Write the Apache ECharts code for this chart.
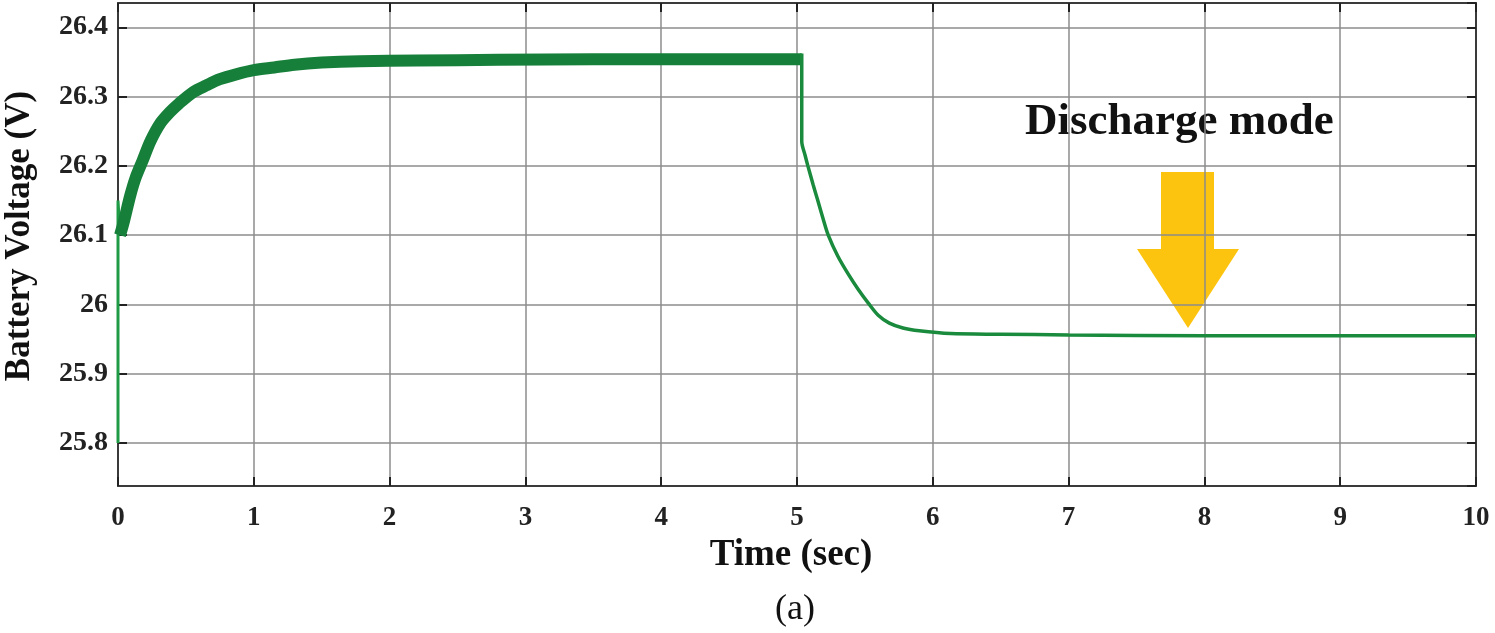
<!DOCTYPE html>
<html>
<head>
<meta charset="utf-8">
<title>Battery Voltage</title>
<script src="https://cdn.jsdelivr.net/npm/echarts@6/dist/echarts.min.js"></script>
<style>
  html, body { margin: 0; padding: 0; background: #fff; }
  #chart { width: 1495px; height: 633px; }
</style>
</head>
<body>
<div id="chart"></div>
<script>
// start spike at t = 0
var spikeTime = [0, 0, 0.015];
var spikeVolt = [25.80, 26.15, 26.10];

// charge phase (centre of the ripple band)
var chargeTime = [0.015, 0.04, 0.09, 0.13, 0.18, 0.24, 0.31, 0.38, 0.45, 0.55, 0.65, 0.75, 0.87, 1.0, 1.15, 1.3, 1.5, 1.78, 2.2, 2.8, 3.5, 4.3, 5.035];
var chargeVolt = [26.10, 26.117, 26.157, 26.183, 26.207, 26.236, 26.261, 26.277, 26.29, 26.306, 26.316, 26.325, 26.332, 26.338, 26.342, 26.346, 26.349, 26.351, 26.352, 26.353, 26.354, 26.354, 26.354];

// discharge phase
var dischargeTime = [5.035, 5.035, 5.06, 5.08, 5.12, 5.15, 5.19, 5.23, 5.3, 5.38, 5.45, 5.525, 5.6, 5.68, 5.78, 5.9, 6.13, 6.5, 7, 8, 9, 10];
var dischargeVolt = [26.362, 26.235, 26.215, 26.2, 26.172, 26.152, 26.125, 26.1, 26.07, 26.043, 26.022, 26.002, 25.984, 25.973, 25.966, 25.962, 25.958, 25.957, 25.956, 25.955, 25.955, 25.955];

var xRange = [0, 10];
var yRange = [25.738, 26.435];

var fontFamily = "'Liberation Serif', 'Times New Roman', serif";

function pairs(xs, ys) {
  var out = [];
  for (var i = 0; i < xs.length; i++) {
    out.push([xs[i], ys[i]]);
  }
  return out;
}

var chart = echarts.init(document.getElementById("chart"));

var gridLine = { show: true, lineStyle: { color: "#8c8c8c", width: 1.5 } };
var boxLine = { show: true, onZero: false, lineStyle: { color: "#3a3a3a", width: 2 } };
var innerTick = { show: true, inside: true, length: 9, lineStyle: { color: "#222", width: 2 } };

var option = {
  animation: false,
  backgroundColor: "#fff",
  grid: { left: 118, right: 19, top: 3, bottom: 147, outerBoundsMode: "none" },
  xAxis: [
    {
      type: "value",
      min: xRange[0],
      max: xRange[1],
      interval: 1,
      name: "Time (sec)",
      nameLocation: "middle",
      nameGap: 46,
      nameTextStyle: { fontFamily: fontFamily, fontWeight: "bold", fontSize: 37, color: "#111", padding: [0, 12, 0, 0] },
      axisLine: boxLine,
      axisTick: innerTick,
      splitLine: gridLine,
      axisLabel: { fontFamily: fontFamily, fontWeight: "bold", fontSize: 27, color: "#222", margin: 19 }
    },
    {
      type: "value",
      position: "top",
      min: xRange[0],
      max: xRange[1],
      interval: 1,
      axisLine: boxLine,
      axisTick: innerTick,
      splitLine: { show: false },
      axisLabel: { show: false }
    }
  ],
  yAxis: [
    {
      type: "value",
      min: yRange[0],
      max: yRange[1],
      minInterval: 0.1,
      maxInterval: 0.1,
      splitNumber: 7,
      axisLine: boxLine,
      axisTick: innerTick,
      splitLine: gridLine,
      axisLabel: {
        fontFamily: fontFamily,
        fontWeight: "bold",
        fontSize: 28,
        color: "#222",
        margin: 10,
        showMinLabel: false,
        showMaxLabel: false,
        formatter: function (v) { return String(Math.round(v * 10) / 10); }
      }
    },
    {
      type: "value",
      position: "right",
      min: yRange[0],
      max: yRange[1],
      minInterval: 0.1,
      maxInterval: 0.1,
      splitNumber: 7,
      axisLine: boxLine,
      axisTick: innerTick,
      splitLine: { show: false },
      axisLabel: { show: false }
    }
  ],
  series: [
    {
      type: "line",
      data: pairs(spikeTime, spikeVolt),
      showSymbol: false,
      lineStyle: { color: "#1f9a45", width: 3 }
    },
    {
      // ripple band drawn as a thick line
      type: "line",
      data: pairs(chargeTime, chargeVolt),
      showSymbol: false,
      smooth: 0.3,
      lineStyle: { color: "#16803a", width: 12, cap: "butt", join: "round" }
    },
    {
      type: "line",
      data: pairs(dischargeTime, dischargeVolt),
      showSymbol: false,
      smooth: 0.3,
      lineStyle: { color: "#1a8a3d", width: 3.5 }
    }
  ],
  graphic: [
    {
      type: "text",
      x: 20,
      y: 236,
      rotation: Math.PI / 2,
      style: {
        text: "Battery Voltage (V)",
        fontFamily: fontFamily,
        fontWeight: "bold",
        fontSize: 35,
        fill: "#111",
        align: "center",
        verticalAlign: "middle"
      }
    },
    {
      type: "text",
      left: 1025,
      top: 100,
      style: { text: "Discharge mode", fontFamily: fontFamily, fontWeight: "bold", fontSize: 45, fill: "#111" }
    },
    {
      type: "polygon",
      shape: {
        points: [[1161, 172], [1214, 172], [1214, 249], [1239, 249], [1188, 328], [1137, 249], [1161, 249]]
      },
      style: { fill: "#fdc40f" }
    },
    {
      type: "text",
      left: 775,
      top: 592,
      style: { text: "(a)", fontFamily: fontFamily, fontSize: 36, fill: "#111" }
    }
  ]
};

chart.setOption(option);
</script>
</body>
</html>
